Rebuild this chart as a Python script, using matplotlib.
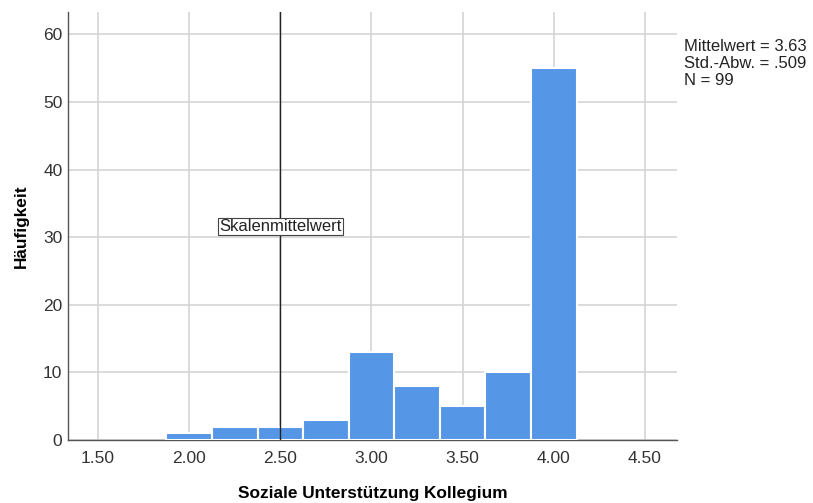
import matplotlib.pyplot as plt
import numpy as np

plt.rcParams['font.family'] = ['Liberation Sans', 'DejaVu Sans']

# --- Data ---
bin_centers = [2.00, 2.25, 2.50, 2.75, 3.00, 3.25, 3.50, 3.75, 4.00]
counts = [1, 2, 2, 3, 13, 8, 5, 10, 55]
bin_width = 0.25
scale_mid = 2.50
xticks = [1.50, 2.00, 2.50, 3.00, 3.50, 4.00, 4.50]
yticks = [0, 10, 20, 30, 40, 50, 60]
stats_text = "Mittelwert = 3.63\nStd.-Abw. = .509\nN = 99"

fig = plt.figure(figsize=(8.13, 5.03), dpi=100)
ax = fig.add_axes([0.0836, 0.1252, 0.7491, 0.8509])

ax.bar(bin_centers, counts, width=bin_width, color='#5596e6',
       edgecolor='white', linewidth=1.5, zorder=3)

ax.axvline(scale_mid, color='#222222', linewidth=1.0, zorder=4)
ax.text(scale_mid, 31.6, 'Skalenmittelwert', ha='center', va='center',
        fontsize=12, color='#222222', zorder=5,
        bbox=dict(boxstyle='square,pad=0.08', facecolor='white',
                  edgecolor='#444444', linewidth=0.8))

ax.set_xlim(1.335, 4.676)
ax.set_ylim(0, 63.3)
ax.set_xticks(xticks)
ax.set_xticklabels([f'{t:.2f}' for t in xticks])
ax.set_yticks(yticks)
ax.tick_params(length=0, labelsize=12.5, colors='#333333')
ax.tick_params(axis='x', pad=8)
ax.tick_params(axis='y', pad=4)
ax.grid(True, color='#d4d4d4', linewidth=1.2, zorder=0)
ax.set_axisbelow(True)

for s in ['top', 'right']:
    ax.spines[s].set_visible(False)
for s in ['left', 'bottom']:
    ax.spines[s].set_color('#555555')
    ax.spines[s].set_linewidth(1.0)

ax.set_xlabel('Soziale Unterstützung Kollegium', fontsize=12.4,
              fontweight='bold', labelpad=14)
ax.set_ylabel('Häufigkeit', fontsize=12.4, fontweight='bold', labelpad=10)

fig.text(684 / 813, 1 - 39 / 503, stats_text, ha='left', va='top',
         fontsize=12, color='#222222', linespacing=1.15)

plt.savefig('out.png')
